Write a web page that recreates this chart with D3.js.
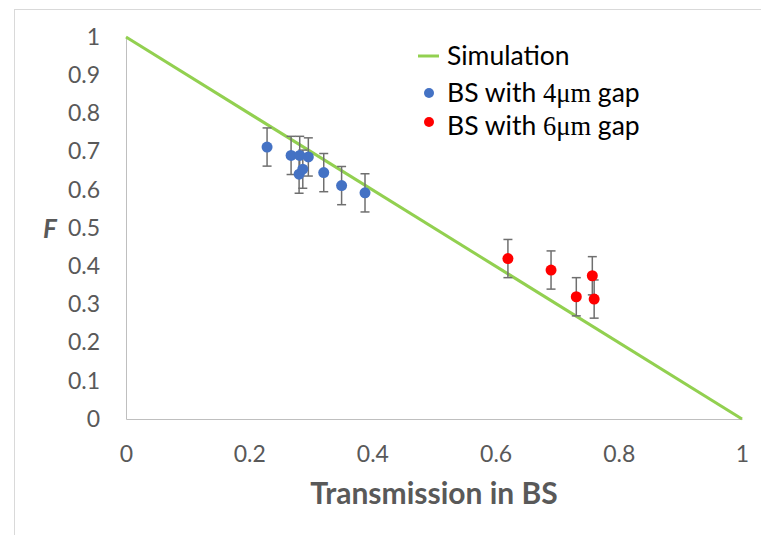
<!DOCTYPE html>
<html><head><meta charset="utf-8">
<script src="https://cdn.jsdelivr.net/npm/d3@7"></script>
<style>
html,body{margin:0;padding:0;background:#fff;}
svg{display:block;}
</style></head>
<body>
<script>
// Data
const simX = [0, 1];
const simY = [1, 0];
const gap4X = [0.229, 0.268, 0.282, 0.296, 0.281, 0.287, 0.321, 0.350, 0.388];
const gap4Y = [0.712, 0.690, 0.690, 0.686, 0.641, 0.654, 0.645, 0.611, 0.592];
const gap4Err = [0.05, 0.05, 0.05, 0.05, 0.05, 0.05, 0.05, 0.05, 0.05];
const gap6X = [0.620, 0.690, 0.731, 0.757, 0.760];
const gap6Y = [0.420, 0.390, 0.320, 0.375, 0.314];
const gap6Err = [0.05, 0.05, 0.05, 0.05, 0.05];
const xTicks = [0, 0.2, 0.4, 0.6, 0.8, 1];
const yTicks = [0, 0.1, 0.2, 0.3, 0.4, 0.5, 0.6, 0.7, 0.8, 0.9, 1];
const legendLabels = ["Simulation", "BS with ", "BS with "];
const legendUnits = ["", "4\u03BCm", "6\u03BCm"];
const legendTail = ["", " gap", " gap"];

const W = 761, H = 535;
const svg = d3.select("body").append("svg").attr("width", W).attr("height", H);
const font = "Lato, 'Open Sans', sans-serif";

// chart frame (cropped)
svg.append("rect").attr("x", 14.5).attr("y", 9.5).attr("width", 900).attr("height", 700)
  .attr("fill", "none").attr("stroke", "#d9d9d9").attr("stroke-width", 1);

const x = d3.scaleLinear().domain([0, 1]).range([126, 742]);
const y = d3.scaleLinear().domain([0, 1]).range([419, 37]);

// axes
const xAxis = d3.axisBottom(x).tickValues(xTicks).tickSize(0).tickPadding(27)
  .tickFormat(d => d3.format("")(+d.toFixed(1)));
const yAxis = d3.axisLeft(y).tickValues(yTicks).tickSize(0).tickPadding(26)
  .tickFormat(d => d3.format("")(+d.toFixed(1)));

const gx = svg.append("g").attr("transform", `translate(0,${y(0)})`).call(xAxis);
const gy = svg.append("g").attr("transform", `translate(${x(0)},0)`).call(yAxis);
[gx, gy].forEach(g => {
  g.select(".domain").attr("stroke", "#bfbfbf").attr("stroke-width", 1);
  g.selectAll("text").attr("fill", "#595959").style("font-family", font).style("font-size", "23px");
});

// axis titles
svg.append("text").attr("x", (x(0) + x(1)) / 2).attr("y", 504).attr("text-anchor", "middle")
  .attr("fill", "#595959").style("font-family", font).style("font-size", "30px").style("font-weight", "bold")
  .text("Transmission in BS");
svg.append("text").attr("x", 50).attr("y", 238).attr("text-anchor", "middle")
  .attr("fill", "#595959").style("font-family", font).style("font-size", "26px")
  .style("font-weight", "bold").style("font-style", "italic").text("F");

// simulation line
const line = d3.line().x(d => x(d[0])).y(d => y(d[1]));
svg.append("path").datum(d3.zip(simX, simY)).attr("d", line)
  .attr("fill", "none").attr("stroke", "#92D050").attr("stroke-width", 3);

// error bars + points
function series(xs, ys, es, color) {
  const data = xs.map((v, i) => ({x: v, y: ys[i], e: es[i]}));
  const g = svg.append("g");
  const eb = g.selectAll("g.eb").data(data).join("g").attr("stroke", "#6f6f6f").attr("stroke-width", 1.5);
  eb.append("line").attr("x1", d => x(d.x)).attr("x2", d => x(d.x))
    .attr("y1", d => y(d.y + d.e)).attr("y2", d => y(d.y - d.e));
  eb.append("line").attr("x1", d => x(d.x) - 4.5).attr("x2", d => x(d.x) + 4.5)
    .attr("y1", d => y(d.y + d.e)).attr("y2", d => y(d.y + d.e));
  eb.append("line").attr("x1", d => x(d.x) - 4.5).attr("x2", d => x(d.x) + 4.5)
    .attr("y1", d => y(d.y - d.e)).attr("y2", d => y(d.y - d.e));
  g.selectAll("circle").data(data).join("circle")
    .attr("cx", d => x(d.x)).attr("cy", d => y(d.y)).attr("r", 5.5).attr("fill", color);
}
series(gap4X, gap4Y, gap4Err, "#4472C4");
series(gap6X, gap6Y, gap6Err, "#FF0000");

// legend
const lg = svg.append("g");
const rowsY = [56, 93, 126];
lg.append("line").attr("x1", 418).attr("x2", 439).attr("y1", rowsY[0]).attr("y2", rowsY[0])
  .attr("stroke", "#92D050").attr("stroke-width", 3);
lg.append("circle").attr("cx", 429).attr("cy", rowsY[1]).attr("r", 5).attr("fill", "#4472C4");
lg.append("circle").attr("cx", 429).attr("cy", rowsY[2] - 4).attr("r", 5).attr("fill", "#FF0000");
legendLabels.forEach((lab, i) => {
  const t = lg.append("text").attr("x", 447).attr("y", rowsY[i] + 9)
    .attr("fill", "#000").style("font-family", font).style("font-size", "26.5px");
  t.append("tspan").text(lab);
  if (legendUnits[i]) {
    t.append("tspan").style("font-family", "'Liberation Serif', 'DejaVu Serif', serif").text(legendUnits[i]);
    t.append("tspan").text(legendTail[i]);
  }
});
</script>
</body></html>
